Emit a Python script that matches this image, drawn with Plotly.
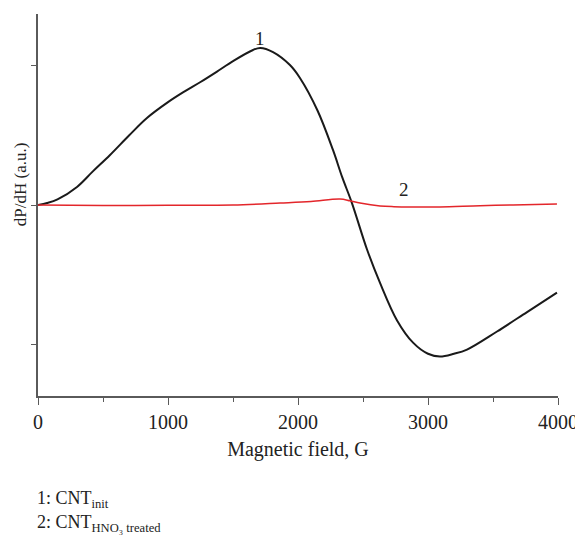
import plotly.graph_objects as go

# curve 1: CNT init
field_1 = [0, 70, 150, 300, 420, 554, 700, 838, 1000, 1115, 1250, 1377, 1500,
           1654, 1710, 1808, 1938, 2015, 2150, 2269, 2340, 2415, 2531, 2631,
           2762, 2885, 3000, 3092, 3200, 3300, 3531, 3762, 3992]
signal_1 = [0, 0.014, 0.04, 0.13, 0.24, 0.36, 0.50, 0.626, 0.74, 0.81, 0.885,
            0.96, 1.035, 1.115, 1.13, 1.10, 1.007, 0.914, 0.68, 0.396, 0.20,
            0.014, -0.32, -0.56, -0.83, -0.99, -1.07, -1.09, -1.07, -1.04,
            -0.91, -0.77, -0.63]

# curve 2: CNT HNO3 treated
field_2 = [0, 500, 1000, 1500, 1862, 2100, 2323, 2400, 2477, 2631, 2738, 2900,
           3092, 3400, 3654, 3992]
signal_2 = [0, -0.003, -0.002, 0, 0.014, 0.025, 0.043, 0.03, 0.014, -0.007,
            -0.012, -0.014, -0.014, -0.005, 0, 0.007]

curve_labels = ["1", "2"]
label_x = [1708, 2815]
label_y = [1.2, 0.108]

x_ticks = [0, 1000, 2000, 3000, 4000]
y_ticks = [-1, 0, 1]

FONT = "Liberation Serif, Times New Roman, serif"
AXIS = "#5a5a5a"
TEXT = "#222222"

fig = go.Figure()
fig.add_trace(go.Scatter(x=field_1, y=signal_1, mode="lines",
                         line=dict(color="#1a1a1a", width=2, shape="spline")))
fig.add_trace(go.Scatter(x=field_2, y=signal_2, mode="lines",
                         line=dict(color="#e3262b", width=1.5, shape="spline")))

for t, x, y in zip(curve_labels, label_x, label_y):
    fig.add_annotation(x=x, y=y, text=t, showarrow=False,
                       font=dict(family=FONT, size=19, color=TEXT))

fig.add_annotation(xref="paper", yref="paper", x=-0.033, y=0.554,
                   xanchor="center", yanchor="middle",
                   text="dP/dH (a.u.)", textangle=-90, showarrow=False,
                   font=dict(family=FONT, size=17, color=TEXT))

fig.add_annotation(xref="paper", yref="paper", x=-0.006, y=-0.27,
                   xanchor="left", yanchor="middle", align="left",
                   text="1: CNT<sub>init</sub>", showarrow=False,
                   font=dict(family=FONT, size=18, color=TEXT))
fig.add_annotation(xref="paper", yref="paper", x=-0.006, y=-0.335,
                   xanchor="left", yanchor="middle", align="left",
                   text="2: CNT<sub>HNO₃ treated</sub>", showarrow=False,
                   font=dict(family=FONT, size=18, color=TEXT))

fig.update_xaxes(range=[0, 4000], tickvals=x_ticks, ticks="outside", ticklen=7,
                 tickcolor=AXIS, showline=True, linecolor=AXIS, linewidth=1.5,
                 showgrid=False, zeroline=False,
                 minor=dict(dtick=500, ticks="outside", ticklen=4, tickcolor=AXIS),
                 tickfont=dict(family=FONT, size=20, color=TEXT),
                 title=dict(text="Magnetic field, G", standoff=10,
                            font=dict(family=FONT, size=20, color=TEXT)))
fig.update_yaxes(range=[-1.374, 1.374], tickvals=y_ticks, showticklabels=False,
                 ticks="outside", ticklen=5, tickcolor=AXIS, showline=True,
                 linecolor=AXIS, linewidth=1.5, showgrid=False, zeroline=False)

# the page body has an 8 px margin, so the figure is 8 px smaller each way
fig.update_layout(width=575, height=533, showlegend=False,
                  margin=dict(l=30, r=25, t=6, b=145, autoexpand=False),
                  plot_bgcolor="white", paper_bgcolor="white")

fig.write_html("out.html")
